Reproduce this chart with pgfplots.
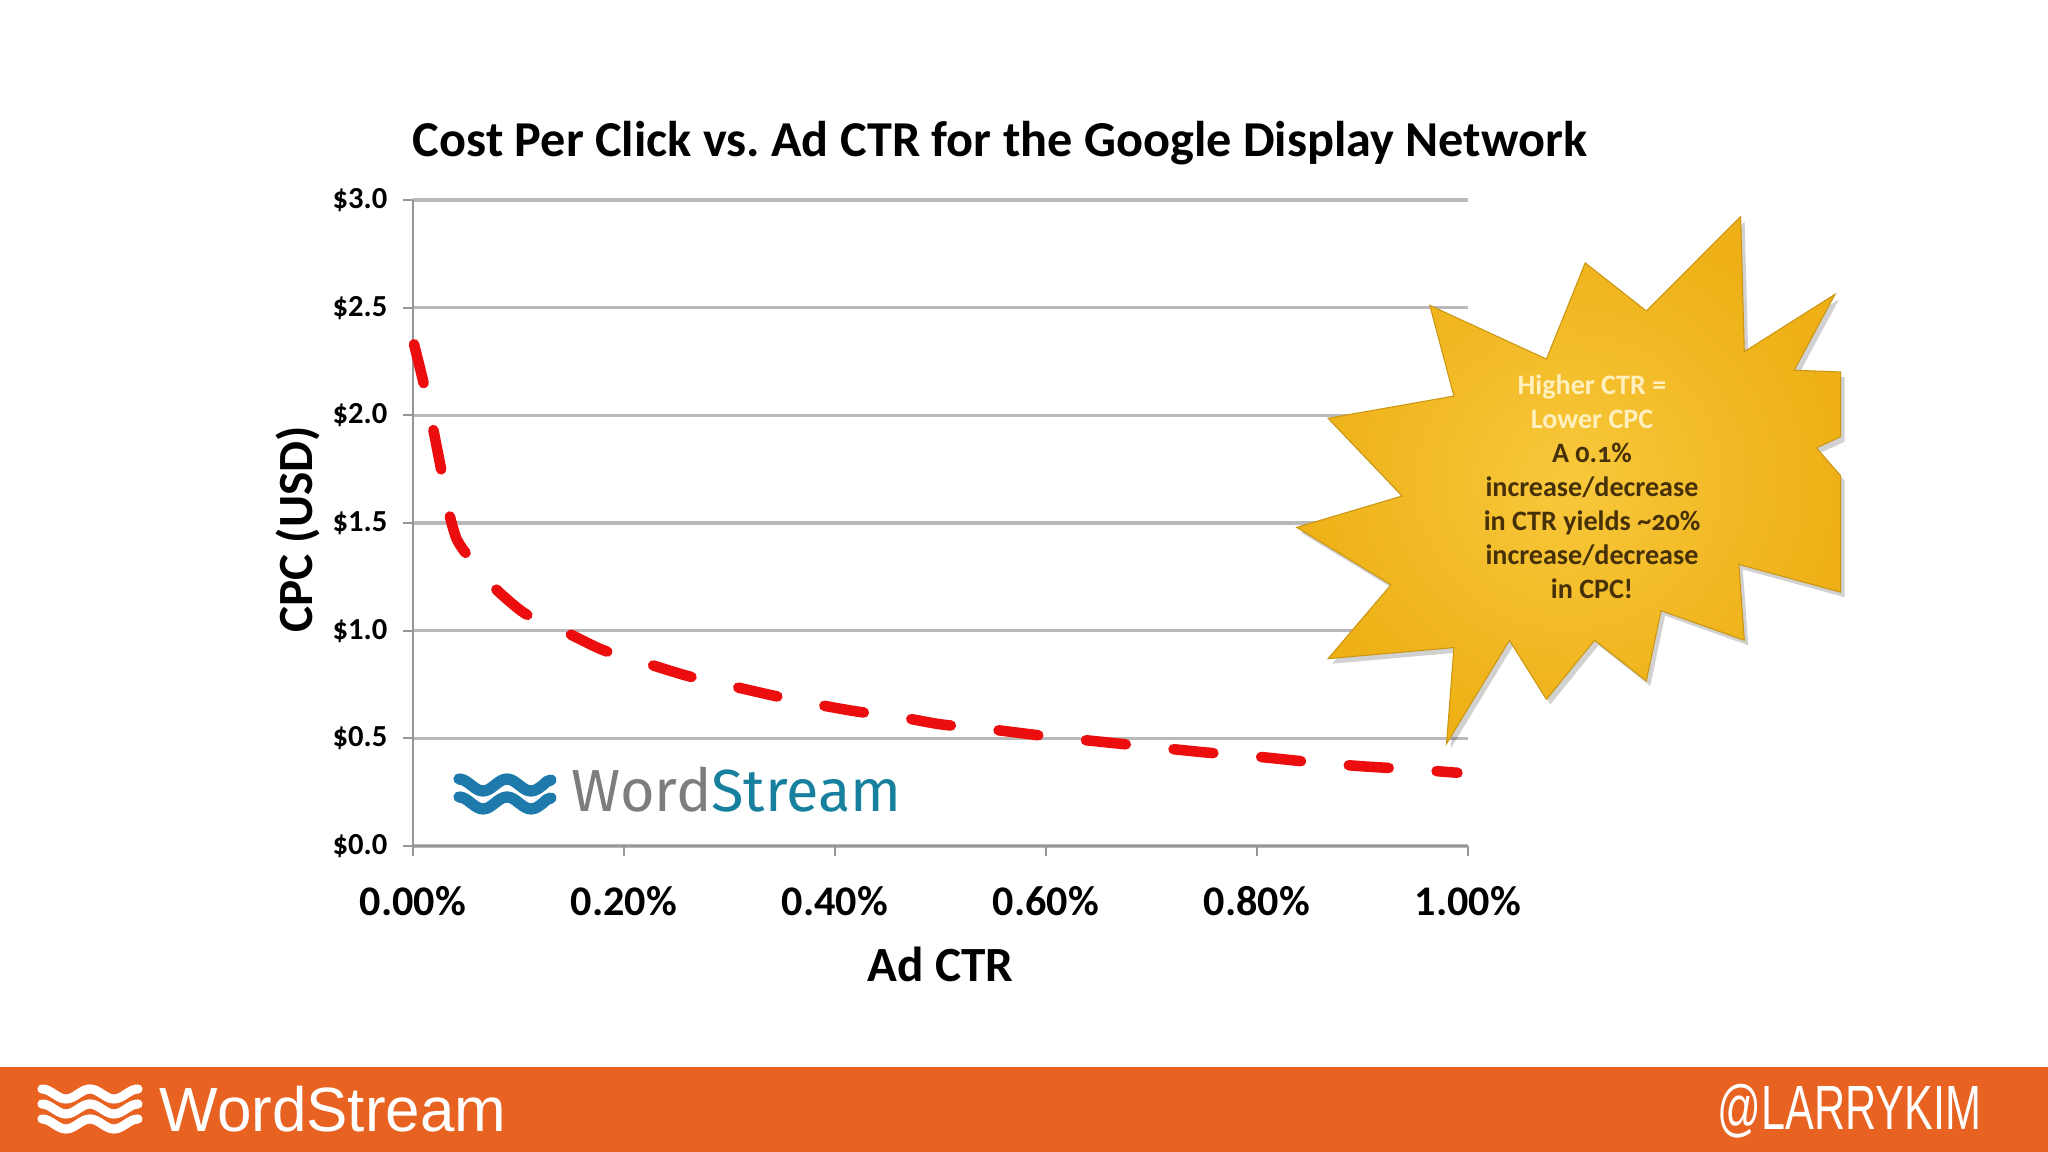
\documentclass[border=0pt]{standalone}
\usepackage{fontspec}
\setmainfont{Carlito}
\newfontfamily\fira{Fira Sans}
\newfontfamily\libsans{Liberation Sans}
\usepackage{pgfplots}
\pgfplotsset{compat=1.18}

\definecolor{ctrred}{RGB}{236,14,14}
\definecolor{gridgray}{RGB}{185,185,185}
\definecolor{axisgray}{RGB}{150,150,150}
\definecolor{footorange}{RGB}{232,98,33}
\definecolor{stargold}{RGB}{238,176,22}
\definecolor{starlight}{RGB}{248,200,60}
\definecolor{starpale}{RGB}{255,240,190}
\definecolor{stardark}{RGB}{70,48,8}
\definecolor{wsblue}{RGB}{30,122,170}
\definecolor{wsgray}{RGB}{125,125,125}
\definecolor{wsteal}{RGB}{22,128,158}

\begin{document}
\frenchspacing
\begin{tikzpicture}[x=0.1mm,y=0.1mm]
\fill[white] (0,0) rectangle (2048,1152);
\fill[footorange] (0,0) rectangle (2048,85);

\begin{axis}[
  at={(41.3mm,30.6mm)}, anchor=south west,
  scale only axis, width=105.5mm, height=64.6mm,
  xmin=0, xmax=1, ymin=0, ymax=3,
  axis x line*=bottom, axis y line*=left,
  axis line style={draw=axisgray, line width=0.6pt, -},
  xtick={0,0.2,0.4,0.6,0.8,1},
  ytick={0,0.5,1,1.5,2,2.5,3},
  xticklabels={0.00\%,0.20\%,0.40\%,0.60\%,0.80\%,1.00\%},
  yticklabels={\$0.0,\$0.5,\$1.0,\$1.5,\$2.0,\$2.5,\$3.0},
  tick align=outside, major tick length=1mm,
  tick style={draw=axisgray, line width=0.6pt},
  ymajorgrids, grid style={draw=gridgray, line width=0.9pt},
  xticklabel style={font=\fontsize{12pt}{14pt}\selectfont\bfseries, anchor=north, inner sep=0pt, yshift=-3mm},
  yticklabel style={font=\fontsize{8.7pt}{10pt}\selectfont\bfseries, anchor=east, inner sep=0pt, xshift=-1.5mm},
  xlabel={Ad CTR},
  xlabel style={font=\fontsize{14pt}{16pt}\selectfont\bfseries, at={(axis description cs:0.5,-0.183)}, anchor=center},
  ylabel={CPC (USD)},
  ylabel style={font=\fontsize{14pt}{16pt}\selectfont\bfseries, at={(axis description cs:-0.109,0.49)}, anchor=center, rotate=0},
  clip=false,
]
\addplot[color=ctrred, line width=3pt, line cap=round, smooth, tension=0.4,
  dash pattern=on 4.0mm off 4.8mm] coordinates {
  (0.001,2.33) (0.011,2.13) (0.019,1.94) (0.027,1.74) (0.034,1.55) (0.041,1.43)
  (0.050,1.36) (0.075,1.21) (0.106,1.08) (0.146,0.99) (0.18,0.91) (0.22,0.85)
  (0.26,0.79) (0.30,0.745) (0.34,0.70) (0.38,0.66) (0.42,0.625) (0.46,0.60)
  (0.50,0.565) (0.55,0.54) (0.60,0.51) (0.65,0.485) (0.70,0.46) (0.75,0.435)
  (0.80,0.415) (0.85,0.39) (0.90,0.37) (0.95,0.355) (0.99,0.34)
};
\end{axis}

% title
\node[font=\fontsize{14.3pt}{16pt}\selectfont\bfseries] at (1000,1009)
  {Cost Per Click vs. Ad CTR for the Google Display Network};

% starburst
\def\starpath{(1740.6,935.4) -- (1744.3,800.3) -- (1835,857.7) -- (1794.2,781.8) -- (1840.5,780) -- (1840.5,715.2) -- (1816.4,704.1) -- (1840.5,676.4) -- (1840.5,559.8) -- (1738.8,587.6) -- (1744.3,511.7) -- (1661,541.3) -- (1646.3,471) -- (1594.5,511.7) -- (1546.4,452.6) -- (1509.4,511.7) -- (1446.5,408.2) -- (1453.9,504.4) -- (1328.1,493.3) -- (1391,567.2) -- (1296.6,624.6) -- (1402.1,656) -- (1328.1,733.7) -- (1453.9,755.9) -- (1429.8,846.6) -- (1546.4,792.9) -- (1585.2,889.1) -- (1646.3,841) -- cycle}
\fill[black, opacity=0.18, shift={(4,-5)}] \starpath;
\shade[inner color=starlight, outer color=stargold] \starpath;
\draw[stargold!85!black, line width=0.3pt] \starpath;

\node[align=center, font=\fontsize{8pt}{9.67pt}\selectfont\bfseries] at (1592,665.5)
  {\textcolor{starpale}{Higher CTR =}\\
   \textcolor{starpale}{Lower CPC}\\
   \textcolor{stardark}{A {\addfontfeatures{Numbers=OldStyle}0.1\%}}\\
   \textcolor{stardark}{increase/decrease}\\
   \textcolor{stardark}{in CTR yields {\addfontfeatures{Numbers=OldStyle}\textasciitilde20\%}}\\
   \textcolor{stardark}{increase/decrease}\\
   \textcolor{stardark}{in CPC!}};

% in-chart logo
\foreach \yy in {367,349} {
  \draw[wsblue, line width=3.2pt, line cap=round]
    (459,\yy+6) cos (471,\yy) sin (483,\yy-6) cos (495,\yy) sin (507,\yy+6)
    cos (519,\yy) sin (531,\yy-6) cos (543,\yy) sin (551,\yy+5);
}
\node[anchor=base west, inner sep=0pt, font=\fira\fontsize{16.9pt}{19pt}\selectfont] at (571,340)
  {\textcolor{wsgray}{Word}\textcolor{wsteal}{Stream}};

% footer
\foreach \yy in {58,43,28} {
  \draw[white, line width=2.6pt, line cap=round]
    (42,\yy+5) cos (54,\yy) sin (66,\yy-5) cos (78,\yy) sin (90,\yy+5)
    cos (102,\yy) sin (114,\yy-5) cos (126,\yy) sin (138,\yy+5);
}
\node[anchor=base west, inner sep=0pt, text=white] at (159,20)
  {\scalebox{0.99}[1]{\libsans\fontsize{17.8pt}{20pt}\selectfont WordStream}};
\node[anchor=base east, inner sep=0pt, text=white] at (1982,22)
  {\scalebox{0.69}[1]{\libsans\fontsize{17.8pt}{20pt}\selectfont @LARRYKIM}};

\pgfresetboundingbox
\useasboundingbox (0,0) rectangle (2048,1152);
\end{tikzpicture}
\end{document}
